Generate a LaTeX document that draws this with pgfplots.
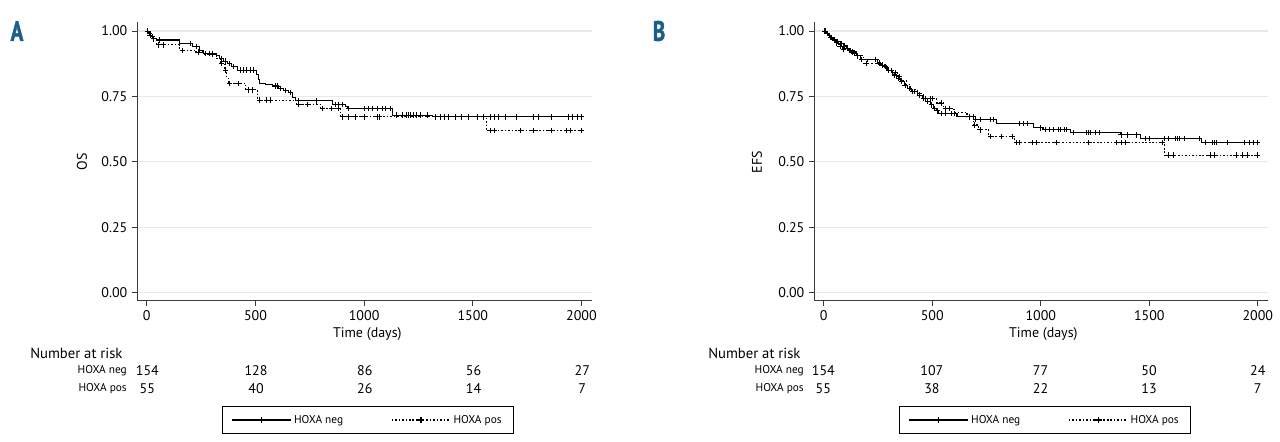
\documentclass[border=0pt]{standalone}
\usepackage{pgfplots}
\pgfplotsset{compat=1.18}
\usepackage{fontspec}
\setmainfont{PT Sans}
\newfontfamily\panelfont[FakeStretch=0.75,FakeBold=1.5]{PT Sans}
\definecolor{panelblue}{RGB}{28,94,140}
\definecolor{gridgray}{RGB}{232,232,232}
\definecolor{axisgray}{RGB}{60,60,60}

\pgfplotsset{
  km/.style={
    scale only axis, width=341pt, height=209.5pt,
    xmin=-45, xmax=2047, ymin=-0.032, ymax=1.036,
    axis x line*=bottom, axis y line*=left,
    axis line style={axisgray, line width=0.75pt},
    tick align=outside, major tick length=3.75pt,
    tick style={axisgray, line width=0.75pt},
    xtick={0,500,1000,1500,2000},
    ytick={0,0.25,0.5,0.75,1},
    yticklabels={0.00,0.25,0.50,0.75,1.00},
    ymajorgrids, grid style={gridgray, line width=0.9pt},
    /pgf/number format/assume math mode=true,
    /pgf/number format/1000 sep={},
    ticklabel style={font=\fontsize{10.5}{12}\selectfont},
    clip=false,
    legend columns=2,
    legend style={at={(0.508,-0.376)}, anchor=north, draw=black,
      font=\fontsize{8.5}{10}\selectfont,
      /tikz/every even column/.append style={column sep=34pt},
      inner xsep=7pt, inner ysep=4.5pt},
    legend image code/.code={\draw[mark repeat=2,mark phase=2,#1]
      plot coordinates {(0pt,0pt) (22pt,0pt) (44pt,0pt)};},
  },
  neg/.style={black, line width=0.8pt, const plot, forget plot},
  pos/.style={black, line width=0.8pt, const plot, dash pattern=on 1.2pt off 1.4pt, forget plot},
  cens/.style={only marks, mark=+, mark size=2pt, mark options={black, solid, line width=0.7pt}, forget plot},
}

\begin{document}
\begin{tikzpicture}
\path[use as bounding box] (0,0) rectangle (960pt,331.5pt);

% ---------------- panel A: OS
\begin{axis}[km, at={(102.75pt,105.75pt)}, anchor=south west]
\addlegendimage{black, line width=0.8pt, mark=+, mark size=2pt, mark options={solid}}
\addlegendentry{HOXA neg}
\addlegendimage{black, line width=0.8pt, dash pattern=on 1.2pt off 1.4pt, mark=+, mark size=2pt, mark options={solid}}
\addlegendentry{HOXA pos}

\addplot[neg] coordinates {
(0,1)(8,0.99)(18,0.98)(30,0.972)(43,0.966)(150,0.953)(212,0.94)(243,0.925)
(260,0.915)(319,0.905)(335,0.895)(355,0.885)(371,0.877)(390,0.864)(417,0.851)
(505,0.835)(512,0.815)(520,0.80)(546,0.795)(577,0.79)(608,0.78)(630,0.772)
(654,0.766)(669,0.746)(685,0.733)(855,0.72)(915,0.713)(925,0.705)(1131,0.679)
(1314,0.672)(2000,0.672)};
\addplot[pos] coordinates {
(0,1)(10,0.985)(25,0.97)(43,0.947)(150,0.927)(218,0.92)(260,0.912)(320,0.895)
(340,0.877)(360,0.851)(368,0.82)(375,0.80)(456,0.775)(510,0.736)(690,0.72)
(800,0.705)(890,0.672)(1563,0.619)(2000,0.619)};
\addplot[cens] coordinates {
(5,1)(12,0.99)(25,0.98)(60,0.966)(200,0.953)(230,0.94)(270,0.915)(290,0.915)
(300,0.915)(345,0.895)(360,0.885)(380,0.877)(400,0.864)(430,0.851)(445,0.851)
(460,0.851)(475,0.851)(490,0.851)(590,0.79)(600,0.79)(615,0.78)(640,0.772)
(660,0.766)(700,0.733)(780,0.733)(870,0.72)(880,0.72)(900,0.72)(930,0.705)
(1000,0.705)(1020,0.705)(1040,0.705)(1060,0.705)(1085,0.705)(1100,0.705)
(1120,0.705)(1150,0.679)(1175,0.679)(1195,0.679)(1205,0.679)(1215,0.679)
(1225,0.679)(1240,0.679)(1260,0.679)(1290,0.679)(1330,0.672)(1350,0.672)
(1370,0.672)(1390,0.672)(1420,0.672)(1450,0.672)(1480,0.672)(1520,0.672)
(1550,0.672)(1580,0.672)(1600,0.672)(1620,0.672)(1650,0.672)(1700,0.672)
(1780,0.672)(1800,0.672)(1860,0.672)(1940,0.672)(1960,0.672)(1980,0.672)
(2000,0.672)};
\addplot[cens] coordinates {
(15,0.985)(30,0.97)(55,0.947)(75,0.947)(165,0.927)(240,0.92)(300,0.912)
(345,0.877)(362,0.851)(380,0.80)(420,0.80)(470,0.775)(485,0.775)(520,0.736)
(550,0.736)(570,0.736)(700,0.72)(740,0.72)(810,0.705)(850,0.705)(880,0.705)
(900,0.672)(930,0.672)(960,0.672)(1000,0.672)(1060,0.672)(1070,0.672)
(1580,0.619)(1600,0.619)(1720,0.619)(1780,0.619)(1860,0.619)(1930,0.619)
(1950,0.619)(2000,0.619)};
\end{axis}

% ---------------- panel B: EFS
\begin{axis}[km, at={(610.5pt,105.75pt)}, anchor=south west, width=340.5pt,
  legend style={at={(0.509,-0.376)}}]
\addlegendimage{black, line width=0.8pt, mark=+, mark size=2pt, mark options={solid}}
\addlegendentry{HOXA neg}
\addlegendimage{black, line width=0.8pt, dash pattern=on 1.2pt off 1.4pt, mark=+, mark size=2pt, mark options={solid}}
\addlegendentry{HOXA pos}

\addplot[neg] coordinates {
(0,1)(10,0.99)(20,0.983)(30,0.976)(45,0.968)(60,0.96)(75,0.952)(90,0.943)
(105,0.935)(120,0.926)(135,0.916)(150,0.905)(169,0.892)(246,0.878)(262,0.87)
(277,0.864)(295,0.848)(315,0.832)(335,0.82)(354,0.806)(370,0.793)(384,0.781)
(405,0.768)(430,0.755)(455,0.742)(476,0.73)(490,0.718)(506,0.705)(518,0.695)
(529,0.685)(614,0.672)(690,0.663)(797,0.647)(967,0.63)(1010,0.624)(1136,0.611)
(1366,0.603)(1458,0.59)(1742,0.575)(2000,0.575)};
\addplot[pos] coordinates {
(0,1)(12,0.985)(25,0.975)(40,0.965)(55,0.955)(70,0.942)(85,0.93)(120,0.92)
(150,0.905)(185,0.89)(200,0.877)(250,0.872)(280,0.862)(300,0.85)(320,0.84)
(340,0.825)(360,0.81)(380,0.795)(400,0.775)(430,0.76)(460,0.743)(520,0.725)
(550,0.705)(600,0.69)(660,0.672)(690,0.641)(713,0.622)(760,0.596)(880,0.573)
(1570,0.526)(2000,0.526)};
\addplot[cens] coordinates {
(5,1)(15,0.99)(25,0.983)(35,0.976)(50,0.968)(65,0.96)(80,0.952)(95,0.943)
(110,0.935)(125,0.926)(140,0.916)(155,0.905)(175,0.892)(240,0.892)(255,0.878)
(270,0.87)(285,0.864)(300,0.848)(325,0.832)(345,0.82)(360,0.806)(375,0.793)
(395,0.781)(410,0.768)(420,0.768)(440,0.755)(460,0.742)(480,0.73)(495,0.718)
(510,0.705)(522,0.695)(540,0.685)(560,0.685)(590,0.685)(600,0.685)(690,0.672)
(700,0.663)(720,0.663)(770,0.663)(780,0.663)(900,0.647)(920,0.647)(940,0.647)
(1000,0.63)(1020,0.624)(1040,0.624)(1060,0.624)(1080,0.624)(1090,0.624)
(1110,0.624)(1120,0.624)(1150,0.611)(1210,0.611)(1220,0.611)(1230,0.611)
(1250,0.611)(1270,0.611)(1370,0.603)(1400,0.603)(1440,0.603)(1480,0.59)
(1500,0.59)(1570,0.59)(1590,0.59)(1620,0.59)(1630,0.59)(1640,0.59)(1660,0.59)
(1730,0.59)(1760,0.575)(1790,0.575)(1800,0.575)(1810,0.575)(1860,0.575)
(1940,0.575)(1960,0.575)(1980,0.575)(2000,0.575)};
\addplot[cens] coordinates {
(8,1)(30,0.975)(60,0.955)(75,0.942)(90,0.93)(130,0.92)(195,0.877)(290,0.862)
(310,0.85)(330,0.84)(350,0.825)(470,0.743)(490,0.743)(500,0.743)(540,0.725)
(560,0.705)(580,0.705)(670,0.672)(695,0.641)(720,0.622)(770,0.596)(820,0.596)
(870,0.596)(890,0.573)(900,0.573)(960,0.573)(980,0.573)(1070,0.573)(1220,0.573)
(1350,0.573)(1370,0.573)(1390,0.573)(1560,0.573)(1590,0.526)(1610,0.526)
(1780,0.526)(1800,0.526)(1900,0.526)(1930,0.526)(1950,0.526)(2000,0.526)};
\end{axis}

% ---------------- labels and number at risk
\node[font=\panelfont\bfseries\fontsize{21}{24}\selectfont, text=panelblue] at (12.75pt,308.25pt) {A};
\node[font=\panelfont\bfseries\fontsize{21}{24}\selectfont, text=panelblue] at (494.25pt,308.25pt) {B};

\node[rotate=90, font=\fontsize{10.5}{12}\selectfont] at (61.5pt,210pt) {OS};
\node[rotate=90, font=\fontsize{10.5}{12}\selectfont] at (567.75pt,210pt) {EFS};
\node[font=\fontsize{10.5}{12}\selectfont] at (275.5pt,81pt) {Time (days)};
\node[font=\fontsize{10.5}{12}\selectfont] at (782.5pt,81pt) {Time (days)};

\begin{scope}[every node/.style={font=\fontsize{11}{12}\selectfont, inner sep=0pt}]
\node[anchor=west] at (22.5pt,66.75pt) {Number at risk};
\node[anchor=west] at (531pt,66.75pt) {Number at risk};
\end{scope}
\begin{scope}[every node/.style={font=\fontsize{8.5}{10}\selectfont, inner sep=0pt, anchor=east}]
\node at (95.25pt,53.25pt) {HOXA neg};
\node at (95.25pt,39.75pt) {HOXA pos};
\node at (603pt,53.25pt) {HOXA neg};
\node at (603pt,39.75pt) {HOXA pos};
\end{scope}
\begin{scope}[every node/.style={font=\fontsize{10.5}{12}\selectfont, inner sep=0pt}]
\node at (110.5pt,53.25pt) {154}; \node at (192pt,53.25pt) {128};
\node at (273.6pt,53.25pt) {86};  \node at (355.2pt,53.25pt) {56};
\node at (436.7pt,53.25pt) {27};
\node at (110.5pt,39.75pt) {55};  \node at (192pt,39.75pt) {40};
\node at (273.6pt,39.75pt) {26};  \node at (355.2pt,39.75pt) {14};
\node at (436.7pt,39.75pt) {7};
\node at (617.5pt,53.25pt) {154}; \node at (698.9pt,53.25pt) {107};
\node at (780.4pt,53.25pt) {77};  \node at (861.8pt,53.25pt) {50};
\node at (943.3pt,53.25pt) {24};
\node at (617.5pt,39.75pt) {55};  \node at (698.9pt,39.75pt) {38};
\node at (780.4pt,39.75pt) {22};  \node at (861.8pt,39.75pt) {13};
\node at (943.3pt,39.75pt) {7};
\end{scope}
\end{tikzpicture}
\end{document}
